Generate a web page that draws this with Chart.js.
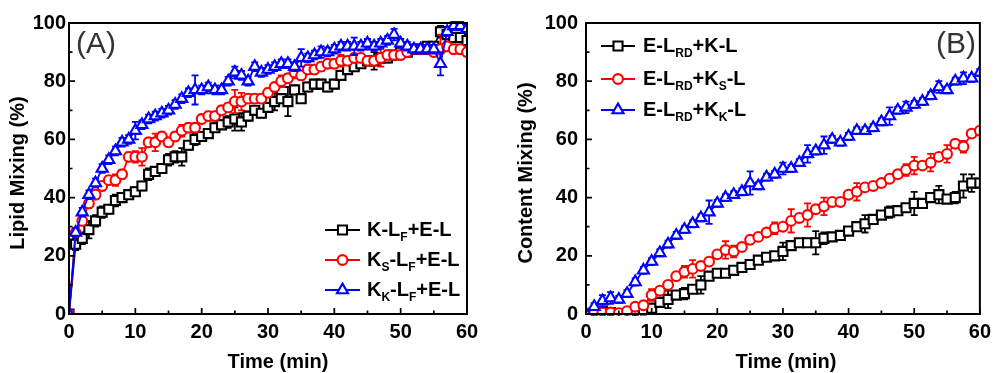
<!DOCTYPE html>
<html>
<head>
<meta charset="utf-8">
<script src="https://cdn.jsdelivr.net/npm/chart.js@4.4.1/dist/chart.umd.min.js"></script>
<style>
  html, body { margin: 0; padding: 0; background: #fff; }
  #wrap { position: relative; width: 997px; height: 373px; overflow: hidden; background: #fff; }
  canvas { position: absolute; top: 0; }
  #cA { left: 0; }
  #cB { left: 497px; }
</style>
</head>
<body>
<div id="wrap">
  <canvas id="cA" width="497" height="373"></canvas>
  <canvas id="cB" width="500" height="373"></canvas>
</div>
<script>
// ---------- Panel A: lipid mixing (sampled every minute) ----------
const timeA = [
  0, 1, 2, 3, 4, 5, 6, 7, 8, 9,
  10, 11, 12, 13, 14, 15, 16, 17, 18, 19,
  20, 21, 22, 23, 24, 25, 26, 27, 28, 29,
  30, 31, 32, 33, 34, 35, 36, 37, 38, 39,
  40, 41, 42, 43, 44, 45, 46, 47, 48, 49,
  50, 51, 52, 53, 54, 55, 56, 57, 58, 59,
  60
];
const lipidK = [
  0, 24, 26, 29, 32, 35, 36, 39, 40, 41,
  42, 44, 48, 49, 50, 53, 54, 54, 58, 60,
  61, 62, 64, 65, 66, 67, 66, 68, 70, 69,
  71, 73, 74, 73, 77, 74, 78, 79, 79, 78,
  79, 82, 84, 85, 86, 87, 87, 88, 88, 89,
  90, 90, 91, 91, 92, 92, 97, 96, 95, 95,
  94
];
const lipidKs = [
  0, 28, 32, 38, 41, 44, 46, 46, 48, 54,
  54, 54, 59, 59, 61, 59, 61, 63, 64, 64,
  67, 68, 68, 70, 71, 73, 73, 74, 74, 74,
  76, 78, 80, 81, 83, 82, 84, 84, 85, 86,
  86, 87, 87, 88, 88, 87, 87, 88, 89, 89,
  89, 90, 91, 91, 91, 90, 91, 92, 91, 91,
  90
];
const lipidKk = [
  0, 28, 35, 41, 45, 50, 53, 56, 59, 60,
  63, 65, 67, 68, 69, 70, 72, 74, 76, 77,
  77, 78, 77, 77, 80, 83, 82, 80, 85, 83,
  84, 85, 86, 86, 85, 88, 88, 89, 90, 90,
  91, 92, 92, 92, 92, 93, 92, 93, 94, 96,
  93, 92, 91, 91, 91, 91, 86, 97, 99, 99,
  98
];
const lipidErrK = [
  0, 2, 2, 3, 2, 2, 1.5, 2, 1.5, 1.5,
  1.5, 1.5, 2, 1.5, 1.5, 2, 2, 3, 1.5, 2,
  1.5, 1.5, 1.5, 1.5, 2, 4, 3, 1.5, 1.5, 1.5,
  1.5, 3, 1.5, 5, 1.5, 1.5, 1.5, 1.5, 1.5, 1.5,
  1.5, 1.5, 1.5, 1.5, 1.5, 1.5, 3, 1.5, 1.5, 1.5,
  1.5, 1.5, 1.5, 1.5, 1.5, 1.5, 2, 1.5, 1.5, 1.5,
  1.5
];
const lipidErrKs = [
  0, 1.5, 1.5, 1.5, 1.5, 1.5, 1.5, 2, 1.5, 1.5,
  2, 3, 1.5, 3, 1.5, 1.5, 1.5, 2, 1.5, 1.5,
  1.5, 1.5, 1.5, 1.5, 1.5, 4, 3, 1.5, 1.5, 1.5,
  1.5, 1.5, 2, 1.5, 2, 1.5, 1.5, 1.5, 1.5, 1.5,
  1.5, 2, 1.5, 1.5, 1.5, 1.5, 1.5, 3, 1.5, 1.5,
  1.5, 1.5, 1.5, 1.5, 1.5, 1.5, 5, 1.5, 1.5, 1.5,
  1.5
];
const lipidErrKk = [
  0, 1.5, 1.5, 1.5, 1.5, 1.5, 1.5, 1.5, 1.5, 1.5,
  3, 1.5, 1.5, 1.5, 1.5, 1.5, 1.5, 1.5, 1.5, 5,
  1.5, 1.5, 1.5, 1.5, 1.5, 2, 1.5, 1.5, 1.5, 1.5,
  1.5, 1.5, 1.5, 1.5, 1.5, 3, 1.5, 1.5, 2, 1.5,
  1.5, 1.5, 1.5, 3, 1.5, 1.5, 1.5, 1.5, 1.5, 2,
  1.5, 1.5, 1.5, 1.5, 1.5, 1.5, 4, 1.5, 1.5, 1.5,
  1.5
];

// ---------- Panel B: content mixing (sampled every 1.25 min) ----------
const timeB = [
  0, 1.25, 2.5, 3.75, 5, 6.25, 7.5, 8.75, 10, 11.25,
  12.5, 13.75, 15, 16.25, 17.5, 18.75, 20, 21.25, 22.5, 23.75,
  25, 26.25, 27.5, 28.75, 30, 31.25, 32.5, 33.75, 35, 36.25,
  37.5, 38.75, 40, 41.25, 42.5, 43.75, 45, 46.25, 47.5, 48.75,
  50, 51.25, 52.5, 53.75, 55, 56.25, 57.5, 58.75, 60
];
const contentK = [
  0, 0.5, 1, 0.5, 0, 0, 0.5, 1, 2, 4,
  5, 6.5, 7, 8.5, 10, 13, 14, 14, 15, 16,
  17, 18.5, 19.5, 20, 21.5, 23.5, 24.5, 24.5, 24.5, 26,
  26.5, 27, 28.5, 30, 31, 32.5, 34, 35, 35.5, 36.5,
  38, 38, 40, 41, 39.5, 40, 44, 45, 45
];
const contentKs = [
  0, 0.5, 0.5, 0.5, 0.3, 1, 2.5, 3, 6.5, 8,
  10, 13, 14.5, 15.5, 16.5, 18, 20.5, 22, 21.5, 23,
  25.5, 26.5, 28, 29.5, 30, 32, 33, 34, 36, 37,
  38.5, 38.5, 41, 42, 43.5, 44, 45, 46.5, 48, 49.5,
  51, 51, 52, 54, 55, 58.5, 57.5, 62, 63
];
const contentKk = [
  0, 2.5, 4.5, 5.5, 5, 7, 11, 15, 18, 21,
  24, 27, 29, 31, 33, 35, 38, 40, 41, 42,
  45, 44, 47, 48, 50, 50, 52, 55, 56, 58,
  60, 59, 61, 63, 63, 64, 66, 68, 70, 71,
  72, 73, 75, 78, 77, 80, 81, 81, 83
];
const contentErrK = [
  0, 1.2, 1.2, 1.2, 1.2, 1.2, 1.2, 1.2, 1.2, 1.2,
  3, 1.2, 2, 1.2, 3, 1.2, 1.2, 1.2, 1.2, 1.2,
  1.2, 1.2, 1.2, 1.2, 3, 1.2, 1.2, 1.2, 4, 2,
  1.2, 1.2, 1.2, 1.2, 3, 1.2, 1.2, 2, 1.2, 1.2,
  4, 1.2, 1.2, 3, 1.2, 2, 4, 3, 1.2
];
const contentErrKs = [
  0, 1.2, 1.2, 1.2, 1.2, 1.2, 1.2, 1.2, 2, 1.2,
  1.2, 1.2, 2, 3, 1.2, 1.2, 1.2, 3, 2, 1.2,
  1.2, 1.2, 1.2, 2, 1.2, 4, 1.2, 4, 1.2, 3,
  1.2, 1.2, 1.2, 3, 1.2, 1.2, 1.2, 1.2, 1.2, 2,
  3, 1.2, 3, 1.2, 3, 1.2, 2, 1.2, 1.2
];
const contentErrKk = [
  0, 1.2, 2, 2, 1.2, 1.2, 1.2, 1.2, 1.2, 1.2,
  1.2, 1.2, 1.2, 1.2, 1.2, 4, 1.2, 1.2, 1.2, 1.2,
  4, 1.2, 1.2, 1.2, 2, 1.2, 1.2, 3, 1.2, 3,
  1.2, 1.2, 1.2, 1.2, 1.2, 1.2, 1.2, 3, 1.2, 2,
  1.2, 1.2, 1.2, 2, 1.2, 1.2, 2, 1.2, 1.2
];

// Legend labels as [text, isSubscript] runs
const legendA = [
  [['K-L', 0], ['F', 1], ['+E-L', 0]],
  [['K', 0], ['S', 1], ['-L', 0], ['F', 1], ['+E-L', 0]],
  [['K', 0], ['K', 1], ['-L', 0], ['F', 1], ['+E-L', 0]]
];
const legendB = [
  [['E-L', 0], ['RD', 1], ['+K-L', 0]],
  [['E-L', 0], ['RD', 1], ['+K', 0], ['S', 1], ['-L', 0]],
  [['E-L', 0], ['RD', 1], ['+K', 0], ['K', 1], ['-L', 0]]
];

const FONT = "'Liberation Sans', Arial, Helvetica, sans-serif";
const BLACK = '#000000', RED = '#ff0000', BLUE = '#0000ff';
const STYLES = [
  { color: BLACK, pointStyle: 'rect', radius: 6.4, order: 3 },
  { color: RED, pointStyle: 'circle', radius: 4.9, order: 2 },
  { color: BLUE, pointStyle: 'triangle', radius: 6.4, order: 1 }
];
const MARKER_LW = 2.1;

function toPoints(xs, ys) {
  return xs.map((x, i) => ({ x: x, y: ys[i] }));
}

function series(label, xs, ys, errs, st) {
  return {
    label: label,
    data: toPoints(xs, ys),
    errors: errs,
    borderColor: st.color,
    backgroundColor: st.color,
    borderWidth: 1.8,
    pointStyle: st.pointStyle,
    pointRadius: st.radius,
    pointBorderWidth: MARKER_LW,
    pointBackgroundColor: '#ffffff',
    pointBorderColor: st.color,
    tension: 0,
    order: st.order
  };
}

function segText(runs) {
  return runs.map(r => r[0]).join('');
}

function drawMarker(ctx, style, r, x, y) {
  if (window.Chart && Chart.helpers && Chart.helpers.drawPoint) {
    Chart.helpers.drawPoint(ctx, { pointStyle: style, radius: r, borderWidth: MARKER_LW, rotation: 0 }, x, y);
    return;
  }
  ctx.beginPath();
  if (style === 'circle') {
    ctx.arc(x, y, r, 0, Math.PI * 2);
  } else if (style === 'rect') {
    const s = r * Math.SQRT1_2;
    ctx.rect(x - s, y - s, 2 * s, 2 * s);
  } else {
    ctx.moveTo(x, y - r);
    ctx.lineTo(x + r * 0.866, y + r * 0.5);
    ctx.lineTo(x - r * 0.866, y + r * 0.5);
    ctx.closePath();
  }
  ctx.fill();
  ctx.stroke();
}

// Frame, inward ticks, titles, panel letter, legend and error bars
const panelDecor = {
  id: 'panelDecor',
  beforeDatasetDraw(chart, args) {
    const ds = chart.data.datasets[args.index];
    if (!ds.errors) return;
    const ctx = chart.ctx, a = chart.chartArea, ys = chart.scales.y;
    ctx.save();
    ctx.beginPath();
    ctx.rect(a.left, a.top - 2, a.right - a.left, a.bottom - a.top + 4);
    ctx.clip();
    ctx.strokeStyle = ds.borderColor;
    ctx.lineWidth = 1.8;
    args.meta.data.forEach((pt, i) => {
      const e = ds.errors[i];
      if (!e) return;
      const v = ds.data[i].y;
      const yt = ys.getPixelForValue(v + e);
      const yb = ys.getPixelForValue(v - e);
      const x = pt.x;
      ctx.beginPath();
      ctx.moveTo(x, yt); ctx.lineTo(x, yb);
      ctx.moveTo(x - 3.5, yt); ctx.lineTo(x + 3.5, yt);
      ctx.moveTo(x - 3.5, yb); ctx.lineTo(x + 3.5, yb);
      ctx.stroke();
    });
    ctx.restore();
  },
  afterDraw(chart, _args, o) {
    const ctx = chart.ctx, a = chart.chartArea;
    const xs = chart.scales.x, ys = chart.scales.y;
    ctx.save();

    // inward tick marks (major + minor)
    ctx.strokeStyle = '#000';
    ctx.lineWidth = 1.7;
    ctx.beginPath();
    for (let v = xs.min; v <= xs.max; v += o.xMinor) {
      const px = xs.getPixelForValue(v);
      const len = (v % o.xMajor === 0) ? 6 : 3.5;
      ctx.moveTo(px, a.bottom); ctx.lineTo(px, a.bottom - len);
    }
    for (let v = ys.min; v <= ys.max; v += o.yMinor) {
      const py = ys.getPixelForValue(v);
      const len = (v % o.yMajor === 0) ? 6 : 3.5;
      ctx.moveTo(a.left, py); ctx.lineTo(a.left + len, py);
    }
    ctx.stroke();

    // frame
    ctx.lineWidth = 2;
    ctx.strokeRect(a.left, a.top, a.right - a.left, a.bottom - a.top);

    // axis titles
    ctx.fillStyle = '#000';
    ctx.font = 'bold 20px ' + FONT;
    ctx.textAlign = 'center';
    ctx.textBaseline = 'middle';
    ctx.fillText(o.xTitle, o.xTitlePos[0], o.xTitlePos[1]);
    ctx.save();
    ctx.translate(o.yTitlePos[0], o.yTitlePos[1]);
    ctx.rotate(-Math.PI / 2);
    ctx.fillText(o.yTitle, 0, 0);
    ctx.restore();

    // panel letter
    ctx.font = '30px ' + FONT;
    ctx.fillStyle = '#333';
    ctx.fillText(o.letter, o.letterPos[0], o.letterPos[1]);

    // legend
    const lg = o.legend;
    chart.data.datasets.forEach((ds, i) => {
      const y = lg.rows[i];
      const st = STYLES[i];
      ctx.strokeStyle = st.color;
      ctx.lineWidth = 1.8;
      ctx.beginPath();
      ctx.moveTo(lg.x1, y); ctx.lineTo(lg.x2, y);
      ctx.stroke();
      ctx.fillStyle = '#fff';
      ctx.strokeStyle = st.color;
      ctx.lineWidth = MARKER_LW;
      drawMarker(ctx, st.pointStyle, st.radius, (lg.x1 + lg.x2) / 2, y);

      let x = lg.textX;
      ctx.fillStyle = '#000';
      ctx.textAlign = 'left';
      ctx.textBaseline = 'middle';
      lg.labels[i].forEach(run => {
        if (run[1]) {
          ctx.font = 'bold 12px ' + FONT;
          ctx.fillText(run[0], x, y + 8);
        } else {
          ctx.font = 'bold 20px ' + FONT;
          ctx.fillText(run[0], x, y);
        }
        x += ctx.measureText(run[0]).width;
      });
    });
    ctx.restore();
  }
};

function makePanel(id, ds, opt) {
  return new Chart(document.getElementById(id), {
    type: 'line',
    data: { datasets: ds },
    plugins: [panelDecor],
    options: {
      responsive: false,
      devicePixelRatio: 1,
      animation: false,
      events: [],
      layout: { padding: { left: 0, top: opt.top, right: opt.right, bottom: 0 } },
      plugins: {
        legend: { display: false },
        tooltip: { enabled: false },
        panelDecor: opt.decor
      },
      scales: {
        x: {
          type: 'linear',
          min: 0, max: 60,
          grid: { display: false, drawTicks: false },
          border: { display: false },
          ticks: {
            stepSize: 10,
            padding: opt.xPad,
            color: '#000',
            font: { family: FONT, size: 20, weight: 'bold' },
            maxRotation: 0
          },
          afterFit: s => { s.height = opt.xHeight; }
        },
        y: {
          type: 'linear',
          min: 0, max: 100,
          grid: { display: false, drawTicks: false },
          border: { display: false },
          ticks: {
            stepSize: 20,
            padding: opt.yPad,
            color: '#000',
            font: { family: FONT, size: 20, weight: 'bold' }
          },
          afterFit: s => { s.width = opt.yWidth; }
        }
      }
    }
  });
}

makePanel('cA', [
  series(segText(legendA[0]), timeA, lipidK, lipidErrK, STYLES[0]),
  series(segText(legendA[1]), timeA, lipidKs, lipidErrKs, STYLES[1]),
  series(segText(legendA[2]), timeA, lipidKk, lipidErrKk, STYLES[2])
], {
  top: 23, right: 30, yWidth: 69, xHeight: 59, xPad: 6, yPad: 3,
  decor: {
    xMajor: 10, xMinor: 5, yMajor: 20, yMinor: 10,
    xTitle: 'Time (min)', xTitlePos: [278, 362],
    yTitle: 'Lipid Mixing (%)', yTitlePos: [18, 173],
    letter: '(A)', letterPos: [96, 45],
    legend: { x1: 325, x2: 360, textX: 367, rows: [230, 260, 290], labels: legendA }
  }
});

makePanel('cB', [
  series(segText(legendB[0]), timeB, contentK, contentErrK, STYLES[0]),
  series(segText(legendB[1]), timeB, contentKs, contentErrKs, STYLES[1]),
  series(segText(legendB[2]), timeB, contentKk, contentErrKk, STYLES[2])
], {
  top: 23, right: 13, yWidth: 89, xHeight: 59, xPad: 6, yPad: 8,
  decor: {
    xMajor: 10, xMinor: 5, yMajor: 20, yMinor: 10,
    xTitle: 'Time (min)', xTitlePos: [289, 362],
    yTitle: 'Content Mixing (%)', yTitlePos: [29, 173],
    letter: '(B)', letterPos: [459, 45],
    legend: { x1: 104, x2: 138, textX: 146, rows: [46, 79, 110], labels: legendB }
  }
});
</script>
</body>
</html>
